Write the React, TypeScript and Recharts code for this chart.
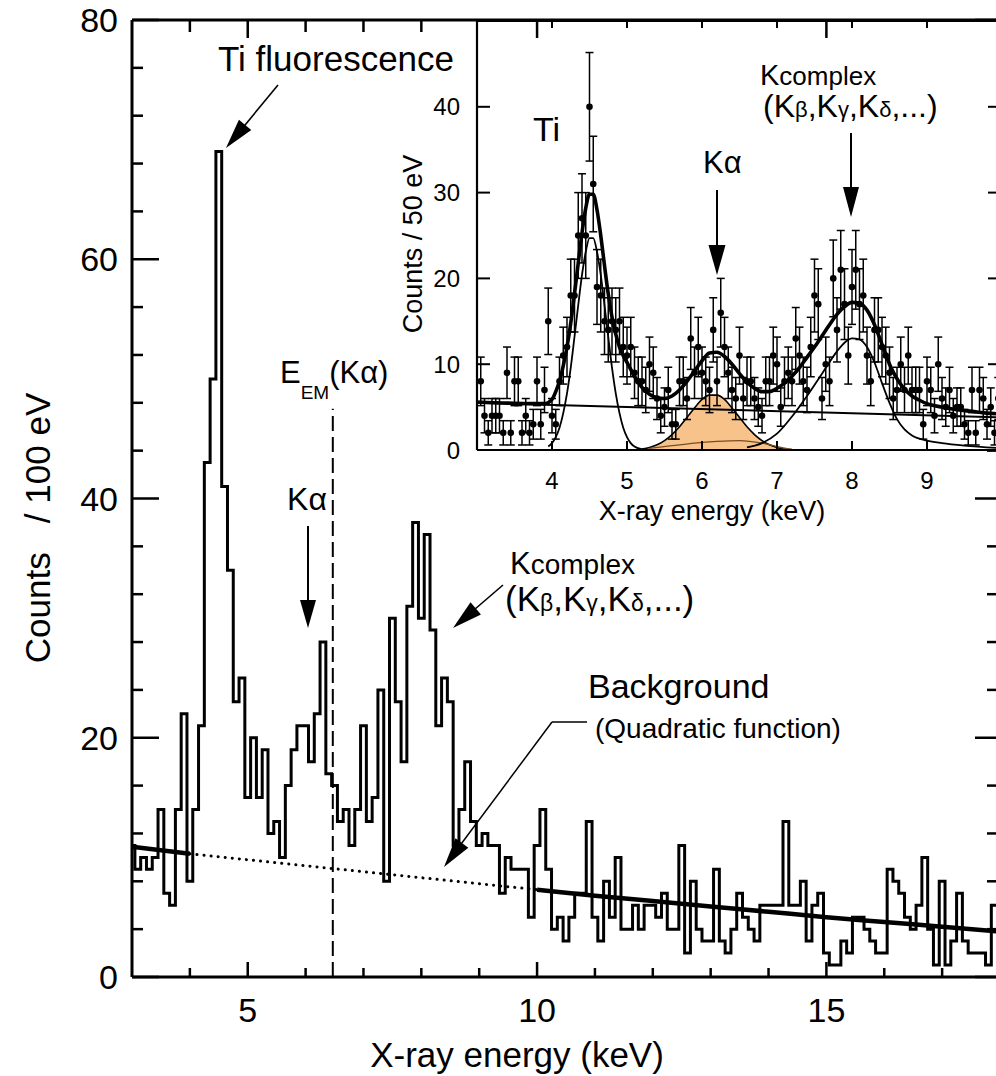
import React from 'react';
import { ComposedChart, Line, Area, Scatter, XAxis, YAxis, ErrorBar, ReferenceLine } from 'recharts';

const FONT = '"Liberation Sans", Arial, Helvetica, sans-serif';
const INK = '#000';
const KALPHA_FILL = '#f7c38b';

// ---------- main spectrum: counts / 100 eV ----------
const MAIN_X_DOMAIN: [number, number] = [3, 18];
const MAIN_Y_DOMAIN: [number, number] = [0, 80];
const MAIN_X_TICKS = [5, 10, 15];
const MAIN_X_MINOR = [4, 6, 7, 8, 9, 11, 12, 13, 14, 16, 17];
const MAIN_Y_TICKS = [0, 20, 40, 60, 80];
const MAIN_Y_MINOR = [4, 8, 12, 16, 24, 28, 32, 36, 44, 48, 52, 56, 64, 68, 72, 76];

// bins centred on 3.0, 3.1, ... 17.9 keV
const HIST_FIRST_CENTER = 3.0;
const HIST_BIN = 0.1;
const HIST_COUNTS = [
  11, 9, 10, 9, 10, 14, 7, 6, 14, 22,
  8, 14, 21, 43, 50, 69, 41, 34, 23, 25,
  15, 20, 15, 19, 12, 13, 10, 16, 19, 21,
  21, 18, 22, 28, 17, 16, 13, 14, 11, 14,
  21, 13, 15, 24, 8, 30, 23, 18, 31, 38,
  30, 37, 29, 21, 25, 23, 11, 14, 18, 13,
  11, 12, 11, 11, 7, 10, 9, 9, 9, 5,
  11, 14, 9, 4, 5, 3, 5, 7, 7, 13,
  5, 3, 8, 5, 10, 4, 4, 6, 4, 6,
  6, 5, 7, 4, 4, 11, 2, 8, 4, 3,
  3, 9, 3, 2, 4, 7, 5, 4, 3, 6,
  6, 6, 6, 13, 6, 6, 8, 3, 6, 7,
  2, 1, 1, 3, 2, 5, 5, 4, 3, 2,
  2, 9, 8, 7, 5, 4, 6, 10, 4, 1,
  8, 1, 3, 7, 3, 2, 2, 2, 1, 6,
];

// quadratic background fit (energy keV, counts)
const BACKGROUND_FIT: [number, number][] = [
  [3, 10.9], [4, 10.3], [5, 9.8], [6, 9.3], [7, 8.8], [8, 8.3], [9, 7.8], [10, 7.3],
  [11, 6.8], [12, 6.35], [13, 5.9], [14, 5.45], [15, 5.0], [16, 4.6], [17, 4.2], [18, 3.8],
];
const BG_FIT_LOW = 4;
const BG_FIT_HIGH = 10;

const E_EM_KALPHA = 6.47;
const E_EM_TOP = 47.5;

// ---------- inset: counts / 50 eV ----------
const INSET_X_DOMAIN: [number, number] = [3, 10];
const INSET_Y_DOMAIN: [number, number] = [0, 50];
const INSET_X_TICKS = [4, 5, 6, 7, 8, 9];
const INSET_Y_TICKS = [0, 10, 20, 30, 40];

const INSET_FIRST_CENTER = 3.05;
const INSET_BIN = 0.05;
const INSET_COUNTS = [
  8, 4, 2, 4, 4, 4, 2, 9, 2, 8,
  8, 2, 4, 2, 3, 8, 3, 7, 15, 4,
  3, 8, 11, 12, 18, 18, 25, 27, 25, 40,
  31, 19, 18, 15, 14, 15, 14, 15, 12, 11,
  12, 9, 8, 8, 7, 10, 9, 6, 4, 5,
  7, 3, 3, 8, 8, 6, 13, 9, 12, 9,
  8, 7, 14, 8, 16, 12, 9, 7, 6, 11,
  6, 8, 8, 6, 5, 4, 8, 8, 11, 10,
  5, 8, 9, 8, 13, 11, 8, 7, 12, 18,
  17, 6, 10, 8, 20, 14, 21, 17, 11, 19,
  21, 17, 18, 11, 8, 14, 14, 12, 11, 9,
  6, 7, 10, 7, 11, 7, 7, 7, 3, 8,
  7, 4, 10, 6, 5, 7, 4, 5, 5, 3,
  2, 7, 2, 7, 6, 3, 5, 2, 6,
];

const FIT_TOTAL: [number, number][] = [
  [3.0, 5.6], [3.5, 5.45], [3.9, 5.4], [4.0, 5.9], [4.05, 6.8], [4.1, 8.0], [4.15, 9.8], [4.2, 12.0],
  [4.25, 14.8], [4.3, 18.2], [4.35, 21.8], [4.4, 25.3], [4.45, 28.2], [4.5, 29.8], [4.55, 29.8],
  [4.6, 28.0], [4.65, 25.0], [4.7, 21.5], [4.75, 18.2], [4.8, 15.5], [4.85, 13.5], [4.9, 12.0],
  [4.95, 11.0], [5.0, 10.2], [5.1, 8.6], [5.2, 7.3], [5.3, 6.5], [5.4, 6.1], [5.5, 6.0], [5.6, 6.3],
  [5.7, 7.0], [5.8, 8.0], [5.9, 9.2], [6.0, 10.4], [6.1, 11.3], [6.2, 11.4], [6.3, 10.9], [6.4, 10.0],
  [6.5, 8.9], [6.6, 7.9], [6.7, 7.2], [6.8, 6.8], [6.9, 6.8], [7.0, 7.2], [7.1, 7.8], [7.2, 8.6],
  [7.3, 9.6], [7.4, 10.8], [7.5, 12.0], [7.6, 13.3], [7.7, 14.6], [7.8, 15.8], [7.9, 16.7], [8.0, 17.2],
  [8.1, 17.1], [8.2, 16.3], [8.3, 14.6], [8.4, 12.3], [8.5, 10.0], [8.6, 8.3], [8.7, 7.1], [8.8, 6.3],
  [8.9, 5.8], [9.0, 5.4], [9.2, 5.0], [9.4, 4.7], [9.6, 4.5], [9.8, 4.3], [10.0, 4.2],
];
const FIT_TI: [number, number][] = [
  [3.95, 0.4], [4.0, 0.8], [4.05, 1.5], [4.1, 2.6], [4.15, 4.3], [4.2, 6.6], [4.25, 9.6], [4.3, 13.2],
  [4.35, 16.9], [4.4, 20.4], [4.45, 23.1], [4.5, 24.7], [4.55, 24.7], [4.6, 23.1], [4.65, 20.4],
  [4.7, 16.9], [4.75, 13.2], [4.8, 9.6], [4.85, 6.6], [4.9, 4.3], [4.95, 2.6], [5.0, 1.5],
  [5.05, 0.8], [5.1, 0.4], [5.2, 0.1], [5.3, 0.0],
];
const FIT_KALPHA: [number, number][] = [
  [5.2, 0.1], [5.3, 0.3], [5.4, 0.6], [5.5, 1.1], [5.6, 1.8], [5.7, 2.7], [5.8, 3.8], [5.9, 4.9],
  [6.0, 5.9], [6.1, 6.4], [6.2, 6.4], [6.3, 5.9], [6.4, 4.9], [6.5, 3.8], [6.6, 2.7], [6.7, 1.8],
  [6.8, 1.1], [6.9, 0.6], [7.0, 0.3], [7.1, 0.1], [7.2, 0.05],
];
const FIT_KALPHA_BASE: [number, number][] = [
  [5.3, 0.2], [5.6, 0.5], [5.9, 0.8], [6.2, 1.0], [6.5, 1.1], [6.8, 0.8], [7.0, 0.4], [7.2, 0.05],
];
const FIT_KCOMPLEX: [number, number][] = [
  [6.6, 0.3], [6.8, 0.8], [7.0, 1.9], [7.2, 3.9], [7.4, 6.3], [7.6, 8.9], [7.8, 11.5], [7.9, 12.5],
  [8.0, 13.0], [8.1, 12.9], [8.2, 12.0], [8.3, 10.2], [8.4, 7.8], [8.5, 5.5], [8.6, 3.6], [8.7, 2.4],
  [8.8, 1.7], [9.0, 1.1], [9.2, 0.8], [9.5, 0.5], [10.0, 0.2],
];
const FIT_BACKGROUND: [number, number][] = [[3.0, 5.5], [10.0, 3.8]];

// ---------- layout ----------
const MAIN_W = 1040;
const MAIN_H = 1076;
const MAIN_MARGIN = { top: 20, right: 40, bottom: 39, left: 32 };
const MAIN_YAXIS_W = 100;
const MAIN_XAXIS_H = 60;
const MAIN_PLOT_LEFT = MAIN_MARGIN.left + MAIN_YAXIS_W;
const MAIN_PLOT_RIGHT = MAIN_W - MAIN_MARGIN.right;

const INSET_LEFT = 380;
const INSET_W = 640;
const INSET_H = 520;
const INSET_MARGIN = { top: 21, right: 18, bottom: 25, left: 37 };
const INSET_YAXIS_W = 60;
const INSET_XAXIS_H = 45;
const INSET_PLOT_LEFT = INSET_LEFT + INSET_MARGIN.left + INSET_YAXIS_W;
const INSET_PLOT_RIGHT = INSET_LEFT + INSET_W - INSET_MARGIN.right;
const INSET_PLOT_BOTTOM = INSET_H - INSET_MARGIN.bottom - INSET_XAXIS_H;

const mainPx = (e: number) =>
  MAIN_PLOT_LEFT + ((e - MAIN_X_DOMAIN[0]) / (MAIN_X_DOMAIN[1] - MAIN_X_DOMAIN[0])) * (MAIN_PLOT_RIGHT - MAIN_PLOT_LEFT);
const insetPx = (e: number) =>
  INSET_PLOT_LEFT + ((e - INSET_X_DOMAIN[0]) / (INSET_X_DOMAIN[1] - INSET_X_DOMAIN[0])) * (INSET_PLOT_RIGHT - INSET_PLOT_LEFT);

// ---------- rows for the library ----------
const histRows = HIST_COUNTS.map((c, i) => ({
  x: Math.max(MAIN_X_DOMAIN[0], HIST_FIRST_CENTER + (i - 0.5) * HIST_BIN),
  y: c,
}));
histRows.push({ x: MAIN_X_DOMAIN[1], y: HIST_COUNTS[HIST_COUNTS.length - 1] });

const bgRows = BACKGROUND_FIT.map(([x, y]) => ({ x, y }));
const bgLow = bgRows.filter((r) => r.x <= BG_FIT_LOW);
const bgMid = bgRows.filter((r) => r.x >= BG_FIT_LOW && r.x <= BG_FIT_HIGH);
const bgHigh = bgRows.filter((r) => r.x >= BG_FIT_HIGH);

const insetPoints = INSET_COUNTS.map((c, i) => ({
  x: INSET_FIRST_CENTER + i * INSET_BIN,
  y: c,
  err: Math.sqrt(c),
}));

const fitCurves: Record<string, [number, number][]> = {
  total: FIT_TOTAL,
  ti: FIT_TI,
  ka: FIT_KALPHA,
  kab: FIT_KALPHA_BASE,
  kc: FIT_KCOMPLEX,
  bg: FIT_BACKGROUND,
};
const fitMap = new Map<string, any>();
Object.entries(fitCurves).forEach(([name, pts]) =>
  pts.forEach(([x, y]) => {
    const k = x.toFixed(2);
    if (!fitMap.has(k)) fitMap.set(k, { x });
    fitMap.get(k)[name] = y;
  })
);
const fitRows = [...fitMap.values()].sort((a, b) => a.x - b.x);

// ---------- helpers ----------
const NoLabel = () => <g />;

// axes that only draw inward tick marks (mirror), no labels
const tickOnlyX = (id: string, domain: [number, number], ticks: number[], size: number, sw: number) => (
  <XAxis key={id} xAxisId={id} dataKey="x" type="number" domain={domain} allowDataOverflow orientation="bottom" mirror height={1}
    ticks={ticks} interval={0} tick={NoLabel} tickSize={size} tickLine={{ stroke: INK, strokeWidth: sw }} axisLine={false} />
);
const tickOnlyY = (id: string, orientation: 'left' | 'right', domain: [number, number], ticks: number[], size: number, sw: number, line = false) => (
  <YAxis key={id} yAxisId={id} type="number" domain={domain} allowDataOverflow orientation={orientation} mirror width={1}
    ticks={ticks} interval={0} tick={NoLabel} tickSize={size} tickLine={{ stroke: INK, strokeWidth: sw }}
    axisLine={line ? { stroke: INK, strokeWidth: sw } : false} />
);

const Arrow = ({ x1, y1, x2, y2, len = 28, half = 8, w = 1.8 }: any) => {
  const dx = x2 - x1;
  const dy = y2 - y1;
  const d = Math.hypot(dx, dy);
  const ux = dx / d;
  const uy = dy / d;
  const bx = x2 - ux * len;
  const by = y2 - uy * len;
  const px = -uy * half;
  const py = ux * half;
  return (
    <g>
      <line x1={x1} y1={y1} x2={bx + ux * 2} y2={by + uy * 2} stroke={INK} strokeWidth={w} />
      <polygon points={`${x2},${y2} ${bx + px},${by + py} ${bx - px},${by - py}`} fill={INK} />
    </g>
  );
};

const InsetDot = (p: any) => <circle cx={p.cx} cy={p.cy} r={3.3} fill={INK} />;

// ---------- charts ----------
const MainChart = () => (
  <ComposedChart width={MAIN_W} height={MAIN_H} data={histRows} margin={MAIN_MARGIN}>
    <XAxis xAxisId="e" dataKey="x" type="number" domain={MAIN_X_DOMAIN} allowDataOverflow ticks={MAIN_X_TICKS} interval={0}
      height={MAIN_XAXIS_H} tickSize={0} tickMargin={21} tick={{ fontSize: 34, fill: INK, fontFamily: FONT }}
      axisLine={{ stroke: INK, strokeWidth: 3 }} tickLine={false} />
    {tickOnlyX('bMaj', MAIN_X_DOMAIN, MAIN_X_TICKS, 15, 2.5)}
    {tickOnlyX('bMin', MAIN_X_DOMAIN, MAIN_X_MINOR, 8, 2.5)}
    <XAxis xAxisId="top" dataKey="x" type="number" domain={MAIN_X_DOMAIN} allowDataOverflow orientation="top" mirror height={1}
      ticks={MAIN_X_TICKS} interval={0} tick={NoLabel} tickLine={false} axisLine={{ stroke: INK, strokeWidth: 3 }} />
    <YAxis yAxisId="c" type="number" domain={MAIN_Y_DOMAIN} allowDataOverflow ticks={MAIN_Y_TICKS} interval={0}
      width={MAIN_YAXIS_W} tickSize={0} tickMargin={14} tick={{ fontSize: 34, fill: INK, fontFamily: FONT }}
      axisLine={{ stroke: INK, strokeWidth: 3 }} tickLine={false} />
    {tickOnlyY('lMaj', 'left', MAIN_Y_DOMAIN, MAIN_Y_TICKS, 27, 2.5)}
    {tickOnlyY('lMin', 'left', MAIN_Y_DOMAIN, MAIN_Y_MINOR, 10, 2.5)}
    {tickOnlyY('rMaj', 'right', MAIN_Y_DOMAIN, MAIN_Y_TICKS, 25, 2.5, true)}
    {tickOnlyY('rMin', 'right', MAIN_Y_DOMAIN, MAIN_Y_MINOR, 12, 2.5)}

    <Line xAxisId="e" yAxisId="c" dataKey="y" type="stepAfter" stroke={INK} strokeWidth={3} dot={false}
      isAnimationActive={false} strokeLinejoin="miter" />
    <Line xAxisId="e" yAxisId="c" data={bgMid} dataKey="y" type="monotone" stroke={INK} strokeWidth={3}
      strokeDasharray="0.1 7" strokeLinecap="round" dot={false} isAnimationActive={false} />
    <Line xAxisId="e" yAxisId="c" data={bgLow} dataKey="y" type="monotone" stroke={INK} strokeWidth={4.5}
      dot={false} isAnimationActive={false} />
    <Line xAxisId="e" yAxisId="c" data={bgHigh} dataKey="y" type="monotone" stroke={INK} strokeWidth={4.5}
      dot={false} isAnimationActive={false} />
    <ReferenceLine xAxisId="e" yAxisId="c" segment={[{ x: E_EM_KALPHA, y: 0 }, { x: E_EM_KALPHA, y: E_EM_TOP }]}
      stroke={INK} strokeWidth={2} strokeDasharray="15 6" />
  </ComposedChart>
);

const InsetChart = () => (
  <ComposedChart width={INSET_W} height={INSET_H} data={fitRows} margin={INSET_MARGIN}>
    <XAxis xAxisId="e" dataKey="x" type="number" domain={INSET_X_DOMAIN} allowDataOverflow ticks={INSET_X_TICKS} interval={0}
      height={INSET_XAXIS_H} tickSize={0} tickMargin={22} tick={{ fontSize: 24, fill: INK, fontFamily: FONT }}
      axisLine={{ stroke: INK, strokeWidth: 2.2 }} tickLine={false} />
    {tickOnlyX('ib', INSET_X_DOMAIN, INSET_X_TICKS, 9, 2)}
    <XAxis xAxisId="top" dataKey="x" type="number" domain={INSET_X_DOMAIN} allowDataOverflow orientation="top" mirror height={1}
      ticks={INSET_X_TICKS} interval={0} tick={NoLabel} tickLine={false} axisLine={{ stroke: INK, strokeWidth: 2.2 }} />
    <YAxis yAxisId="c" type="number" domain={INSET_Y_DOMAIN} allowDataOverflow ticks={INSET_Y_TICKS} interval={0}
      width={INSET_YAXIS_W} tickSize={0} tickMargin={17} tick={{ fontSize: 24, fill: INK, fontFamily: FONT }}
      axisLine={{ stroke: INK, strokeWidth: 2.2 }} tickLine={false} />
    {tickOnlyY('il', 'left', INSET_Y_DOMAIN, INSET_Y_TICKS, 13, 2)}
    {tickOnlyY('ir', 'right', INSET_Y_DOMAIN, INSET_Y_TICKS, 14, 2, true)}

    <Area xAxisId="e" yAxisId="c" dataKey="ka" type="monotone" fill={KALPHA_FILL} fillOpacity={1} stroke={INK}
      strokeWidth={1.6} connectNulls dot={false} activeDot={false} isAnimationActive={false} />
    <Line xAxisId="e" yAxisId="c" dataKey="kab" type="monotone" stroke="#7a4d22" strokeWidth={1.3} connectNulls
      dot={false} isAnimationActive={false} />
    <Line xAxisId="e" yAxisId="c" dataKey="bg" type="linear" stroke={INK} strokeWidth={2} connectNulls
      dot={false} isAnimationActive={false} />
    <Line xAxisId="e" yAxisId="c" dataKey="ti" type="monotone" stroke={INK} strokeWidth={1.8} connectNulls
      dot={false} isAnimationActive={false} />
    <Line xAxisId="e" yAxisId="c" dataKey="kc" type="monotone" stroke={INK} strokeWidth={1.8} connectNulls
      dot={false} isAnimationActive={false} />
    <Scatter xAxisId="e" yAxisId="c" data={insetPoints} dataKey="y" shape={InsetDot} isAnimationActive={false}>
      <ErrorBar dataKey="err" direction="y" width={4} stroke={INK} strokeWidth={1.5} isAnimationActive={false} />
    </Scatter>
    <Line xAxisId="e" yAxisId="c" dataKey="total" type="monotone" stroke={INK} strokeWidth={3.6} connectNulls
      dot={false} isAnimationActive={false} />
  </ComposedChart>
);

const Annotations = () => (
  <svg width={996} height={1076} style={{ position: 'absolute', left: 0, top: 0, pointerEvents: 'none' }}
    fontFamily={FONT} fill={INK}>
    {/* inward ticks hanging from the top frames */}
    {MAIN_X_TICKS.map((v) => (
      <line key={`tM${v}`} x1={mainPx(v)} x2={mainPx(v)} y1={MAIN_MARGIN.top} y2={MAIN_MARGIN.top + 18} stroke={INK} strokeWidth={2.5} />
    ))}
    {MAIN_X_MINOR.filter((v) => mainPx(v) < INSET_PLOT_LEFT).map((v) => (
      <line key={`tm${v}`} x1={mainPx(v)} x2={mainPx(v)} y1={MAIN_MARGIN.top} y2={MAIN_MARGIN.top + 12} stroke={INK} strokeWidth={2.5} />
    ))}
    {INSET_X_TICKS.map((v) => (
      <line key={`it${v}`} x1={insetPx(v)} x2={insetPx(v)} y1={INSET_MARGIN.top} y2={INSET_MARGIN.top + 7} stroke={INK} strokeWidth={2} />
    ))}

    {/* main axis titles */}
    <text x={517} y={1067} fontSize={35} textAnchor="middle">X-ray energy (keV)</text>
    <text transform="translate(50 528) rotate(-90)" fontSize={35} textAnchor="middle">{'Counts\u00a0\u00a0 / 100 eV'}</text>

    {/* main annotations */}
    <text x={218} y={71} fontSize={35}>Ti fluorescence</text>
    <Arrow x1={278} y1={85} x2={226} y2={148} len={30} half={8} w={1.6} />

    <text x={280} y={383} fontSize={31}>
      E<tspan fontSize={19} dy={16}>EM</tspan><tspan fontSize={31} dy={-16}>(Kα)</tspan>
    </text>

    <text x={307} y={510} fontSize={32} textAnchor="middle">Kα</text>
    <Arrow x1={308} y1={526} x2={308} y2={628} len={28} half={8} w={2} />

    <text x={510} y={574} fontSize={31}>K<tspan fontSize={28}>complex</tspan></text>
    <text x={505} y={611} fontSize={35}>
      (K<tspan fontSize={23}>β</tspan>,K<tspan fontSize={23}>γ</tspan>,K<tspan fontSize={23}>δ</tspan>,...)
    </text>
    <Arrow x1={503} y1={585} x2={453} y2={628} len={30} half={8} w={1.6} />

    <text x={588} y={698} fontSize={34}>Background</text>
    <text x={595} y={738} fontSize={28}>(Quadratic function)</text>
    <line x1={587} y1={722} x2={552} y2={722} stroke={INK} strokeWidth={1.5} />
    <Arrow x1={552} y1={722} x2={444} y2={867} len={30} half={8} w={1.5} />

    {/* inset titles */}
    <text x={712} y={INSET_PLOT_BOTTOM + 70} fontSize={27} textAnchor="middle">X-ray energy (keV)</text>
    <text transform="translate(422 244) rotate(-90)" fontSize={27} textAnchor="middle">Counts / 50 eV</text>

    {/* inset annotations */}
    <text x={533} y={141} fontSize={34}>Ti</text>
    <text x={703} y={173} fontSize={31}>Kα</text>
    <Arrow x1={717} y1={190} x2={717} y2={275} len={30} half={8.5} w={2} />

    <text x={760} y={85} fontSize={29}>K<tspan fontSize={26}>complex</tspan></text>
    <text x={763} y={117} fontSize={32}>
      (K<tspan fontSize={22}>β</tspan>,K<tspan fontSize={22}>γ</tspan>,K<tspan fontSize={22}>δ</tspan>,...)
    </text>
    <Arrow x1={851} y1={133} x2={851} y2={217} len={30} half={8} w={2} />
  </svg>
);

export default function App() {
  return (
    <div style={{ position: 'fixed', left: 0, top: 0, width: 996, height: 1076, overflow: 'hidden', background: '#fff', fontFamily: FONT }}>
      <div style={{ position: 'absolute', left: 0, top: 0 }}>
        <MainChart />
      </div>
      <div style={{
        position: 'absolute', left: INSET_PLOT_LEFT, top: INSET_MARGIN.top,
        width: INSET_PLOT_RIGHT - INSET_PLOT_LEFT + 5, height: INSET_PLOT_BOTTOM - INSET_MARGIN.top, background: '#fff',
      }} />
      <div style={{ position: 'absolute', left: INSET_LEFT, top: 0 }}>
        <InsetChart />
      </div>
      <Annotations />
    </div>
  );
}
